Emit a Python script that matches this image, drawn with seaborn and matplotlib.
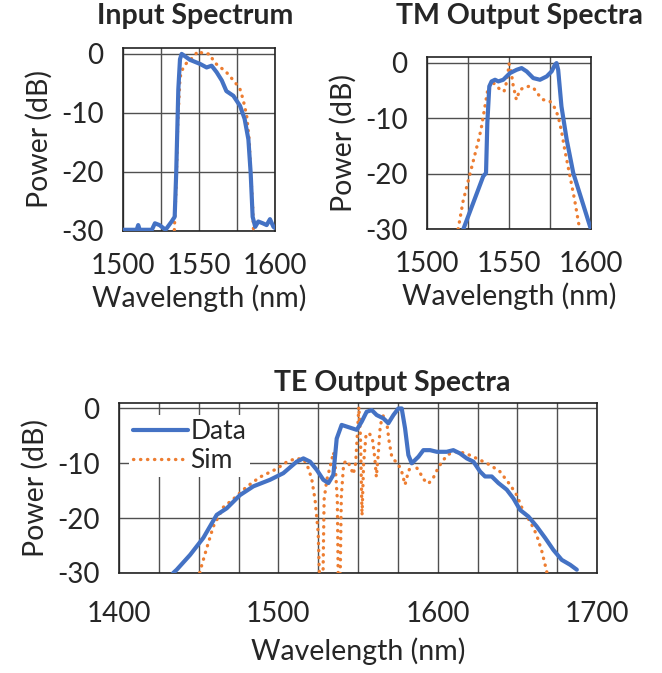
import numpy as np
import pandas as pd
import matplotlib
matplotlib.use("Agg")
import matplotlib.pyplot as plt
from matplotlib.ticker import MultipleLocator
import seaborn as sns

# ---- Input spectrum ----
in_wl_data = [1500, 1509, 1510, 1511, 1519, 1521, 1524, 1528, 1532, 1534,
              1535, 1536.4, 1537.5, 1538.6, 1544, 1550.7, 1555, 1558.3, 1561.6, 1565,
              1568, 1572.6, 1577, 1580, 1582.5, 1584, 1585.3, 1587, 1589, 1592,
              1594.5, 1596.7, 1599, 1600]
in_db_data = [-29.8, -29.8, -29.0, -29.8, -29.8, -28.7, -29.0, -29.8, -28.4, -27.6,
              -20.2, -6.0, -0.9, 0.0, -1.0, -1.7, -2.3, -2.0, -3.1, -4.5,
              -6.3, -7.1, -8.8, -11.0, -14.5, -20.2, -27.6, -29.3, -28.4, -28.7,
              -29.0, -28.0, -29.3, -29.5]
in_wl_sim = [1533.6, 1535, 1536, 1537.5, 1539.7, 1542, 1546, 1549.5, 1553, 1557,
             1560, 1564, 1567, 1570, 1573.7, 1577, 1579, 1581.4, 1583, 1584,
             1585.3, 1586]
in_db_sim = [-31, -22, -12, -4, -2.2, -1.5, -0.6, 0.5, 0, 0,
             -1.4, -2.3, -2.8, -3.7, -4.8, -6, -7.7, -10.5, -14.5, -20.2,
             -25.8, -31]

# ---- TM output ----
tm_wl_data = [1522.2, 1534.3, 1536, 1536.8, 1538, 1539.4, 1541.5, 1543.5, 1546.5, 1550.6,
              1554.7, 1557.7, 1560.8, 1564.8, 1568.9, 1573, 1576, 1578, 1579, 1580,
              1582, 1585.2, 1589.2, 1594.3, 1599.4, 1600]
tm_db_data = [-30, -20.5, -19.9, -10.9, -4.3, -3.4, -3.1, -3.4, -3.1, -1.9,
              -1.3, -1.0, -1.6, -2.8, -3.1, -2.5, -1.6, -0.4, -0.1, -1.3,
              -7.9, -13.9, -19.9, -24.7, -29.5, -30]
tm_wl_sim = [1519, 1522, 1525, 1528, 1531, 1533, 1535, 1537, 1539, 1541,
             1545, 1547, 1549, 1550, 1551, 1552.5, 1554.5, 1556.5, 1559, 1562,
             1565, 1568, 1571, 1575, 1578, 1580, 1582, 1584, 1586, 1588,
             1590, 1592.5, 1594]
tm_db_sim = [-30, -25, -21.5, -18, -14.5, -12, -8.5, -5, -3.5, -3.8,
             -5, -5.2, -3, -0.2, -1, -4, -6.7, -5, -4.5, -4.3,
             -4.6, -5.8, -6.7, -7, -8.2, -9.7, -12.3, -15.7, -18.7, -21.7,
             -24.7, -29, -30]

# ---- TE output ----
te_wl_data = [1434, 1436.2, 1444.6, 1452.9, 1461.3, 1467.6, 1475.9, 1484.3, 1494.8, 1503.1,
              1511.5, 1515.7, 1519.9, 1524.1, 1528.2, 1531.4, 1534.5, 1536.6, 1539.7, 1542.9,
              1549.2, 1552.3, 1555.4, 1558.6, 1561.7, 1565.9, 1569, 1572.2, 1575.3, 1577.4,
              1579.5, 1581.6, 1583.7, 1587.9, 1591, 1595.2, 1599.4, 1605.6, 1609.8, 1614,
              1618.2, 1622.4, 1626.6, 1629.7, 1633.9, 1638.1, 1643.3, 1647.5, 1651.7, 1656.9,
              1662.1, 1667.4, 1672.6, 1677.8, 1683.1, 1687.3]
te_db_data = [-30, -29.4, -26.7, -23.6, -19.4, -18.2, -15.8, -14.2, -13.0, -11.8,
              -9.7, -9.1, -9.7, -11.2, -13.0, -13.6, -12.1, -5.5, -3.0, -3.3,
              -3.9, -2.4, -0.6, -0.3, -1.2, -1.8, -2.7, -1.2, 0.0, 0.0,
              -3.6, -8.5, -10.0, -8.8, -7.6, -7.6, -7.9, -7.9, -7.6, -8.2,
              -9.1, -9.7, -11.5, -12.4, -12.4, -13.6, -14.8, -16.4, -18.5, -19.7,
              -21.5, -23.6, -25.8, -27.6, -28.5, -29.4]
te_wl_sim = [1448, 1450.8, 1455, 1459.2, 1465.5, 1471.8, 1480, 1488.5, 1499, 1505,
             1511, 1516, 1519, 1521, 1523, 1525, 1526.2, 1527.8, 1528.7, 1530.4,
             1532.5, 1534.6, 1535.7, 1537, 1537.7, 1538.6, 1539.5, 1541, 1543, 1545,
             1547, 1548.5, 1549.5, 1550.5, 1551.5, 1552.5, 1553.5, 1555, 1557, 1559,
             1560.5, 1561.5, 1562.5, 1564, 1566, 1568, 1569.5, 1571, 1573, 1575,
             1577.4, 1579.5, 1581.6, 1584, 1586, 1588.5, 1591, 1594.2, 1597.3, 1600,
             1602.5, 1606, 1610, 1614, 1620, 1626.6, 1632.8, 1639, 1645.4, 1649.6,
             1653.8, 1658, 1662, 1665.3, 1668.4, 1671]
te_db_sim = [-35, -29.7, -25.5, -21.5, -18, -16.5, -14.3, -12.5, -11, -9.8,
             -9.1, -9.3, -11, -13, -16.6, -22.7, -35, -35, -16.6, -13,
             -10.6, -8, -10.6, -16.6, -35, -35, -16, -10, -9.5, -10.5,
             -12, -10, -5, 0.3, -5, -19.5, -10, -4.8, -4.5, -5.5,
             -9, -12.5, -9, -3, -1.2, -2.5, -6, -8.5, -9.5, -10,
             -11.5, -13.9, -11.5, -10, -10.5, -11.5, -12.9, -13.7, -12.6, -11,
             -9.8, -8.5, -7.9, -7.9, -8.5, -9.4, -10.3, -11.5, -13.9, -15.8,
             -18.8, -20.6, -23, -26, -29.7, -35]

BLUE = "#4472C4"
ORANGE = "#ED7D31"

sns.set_style("white")
plt.rcParams['font.family'] = ['Lato', 'DejaVu Sans']
plt.rcParams['axes.unicode_minus'] = False

TICK_FS = 20
LABEL_FS = 20.5
TITLE_FS = 20.5


def draw_panel(ax, wl_d, db_d, wl_s, db_s, xmin, xmax, major, minor):
    df_d = pd.DataFrame({'wl': wl_d, 'db': db_d})
    df_s = pd.DataFrame({'wl': wl_s, 'db': db_s})
    sns.lineplot(data=df_d, x='wl', y='db', ax=ax, color=BLUE, lw=3.0,
                 estimator=None, sort=False, label='Data', zorder=4)
    sns.lineplot(data=df_s, x='wl', y='db', ax=ax, color=ORANGE, lw=2.4,
                 estimator=None, sort=False, label='Sim', zorder=3,
                 dashes=False, linestyle=(0, (0.1, 2.0)), dash_capstyle='round')
    ax.set_xlim(xmin, xmax)
    ax.set_ylim(-30, 1)
    ax.xaxis.set_major_locator(MultipleLocator(major))
    ax.xaxis.set_minor_locator(MultipleLocator(minor))
    ax.set_yticks([-30, -20, -10, 0])
    ax.grid(True, which='both', color='#505050', lw=1.0)
    ax.tick_params(which='both', length=0, labelsize=TICK_FS)
    ax.tick_params(axis='x', pad=16)
    ax.tick_params(axis='y', pad=14)
    for s in ax.spines.values():
        s.set_color('#222222')
        s.set_linewidth(1.2)
    ax.set_xlabel('Wavelength (nm)', fontsize=LABEL_FS, labelpad=4)
    ax.set_ylabel('Power (dB)', fontsize=LABEL_FS, labelpad=6)
    leg = ax.get_legend()
    if leg is not None:
        leg.remove()


fig = plt.figure(figsize=(6.62, 6.73), dpi=100)

ax1 = fig.add_axes([0.1858, 0.6568, 0.2296, 0.2719])
draw_panel(ax1, in_wl_data, in_db_data, in_wl_sim, in_db_sim, 1500, 1600, 50, 25)

ax2 = fig.add_axes([0.6450, 0.6597, 0.2477, 0.2556])
draw_panel(ax2, tm_wl_data, tm_db_data, tm_wl_sim, tm_db_sim, 1500, 1600, 50, 25)

ax3 = fig.add_axes([0.1798, 0.1486, 0.7221, 0.2526])
draw_panel(ax3, te_wl_data, te_db_data, te_wl_sim, te_db_sim, 1400, 1700, 100, 25)
ax3.tick_params(axis='x', pad=20)
ax3.xaxis.labelpad = 8
leg = ax3.legend(loc='upper left', bbox_to_anchor=(0.02, 0.93), fontsize=19,
                 frameon=True, framealpha=1, edgecolor='white', facecolor='white',
                 handlelength=2.1, handletextpad=0.1, borderpad=0.15,
                 labelspacing=0.15, borderaxespad=0.0)
leg.get_frame().set_linewidth(0)

fig.text(195 / 662, 1 - 16 / 673, 'Input Spectrum', ha='center', va='center',
         fontsize=TITLE_FS, fontweight='bold')
fig.text(519 / 662, 1 - 16 / 673, 'TM Output Spectra', ha='center', va='center',
         fontsize=TITLE_FS, fontweight='bold')
fig.text(392 / 662, 1 - 383 / 673, 'TE Output Spectra', ha='center', va='center',
         fontsize=TITLE_FS, fontweight='bold')

fig.savefig('out.png', dpi=100, facecolor='white')
